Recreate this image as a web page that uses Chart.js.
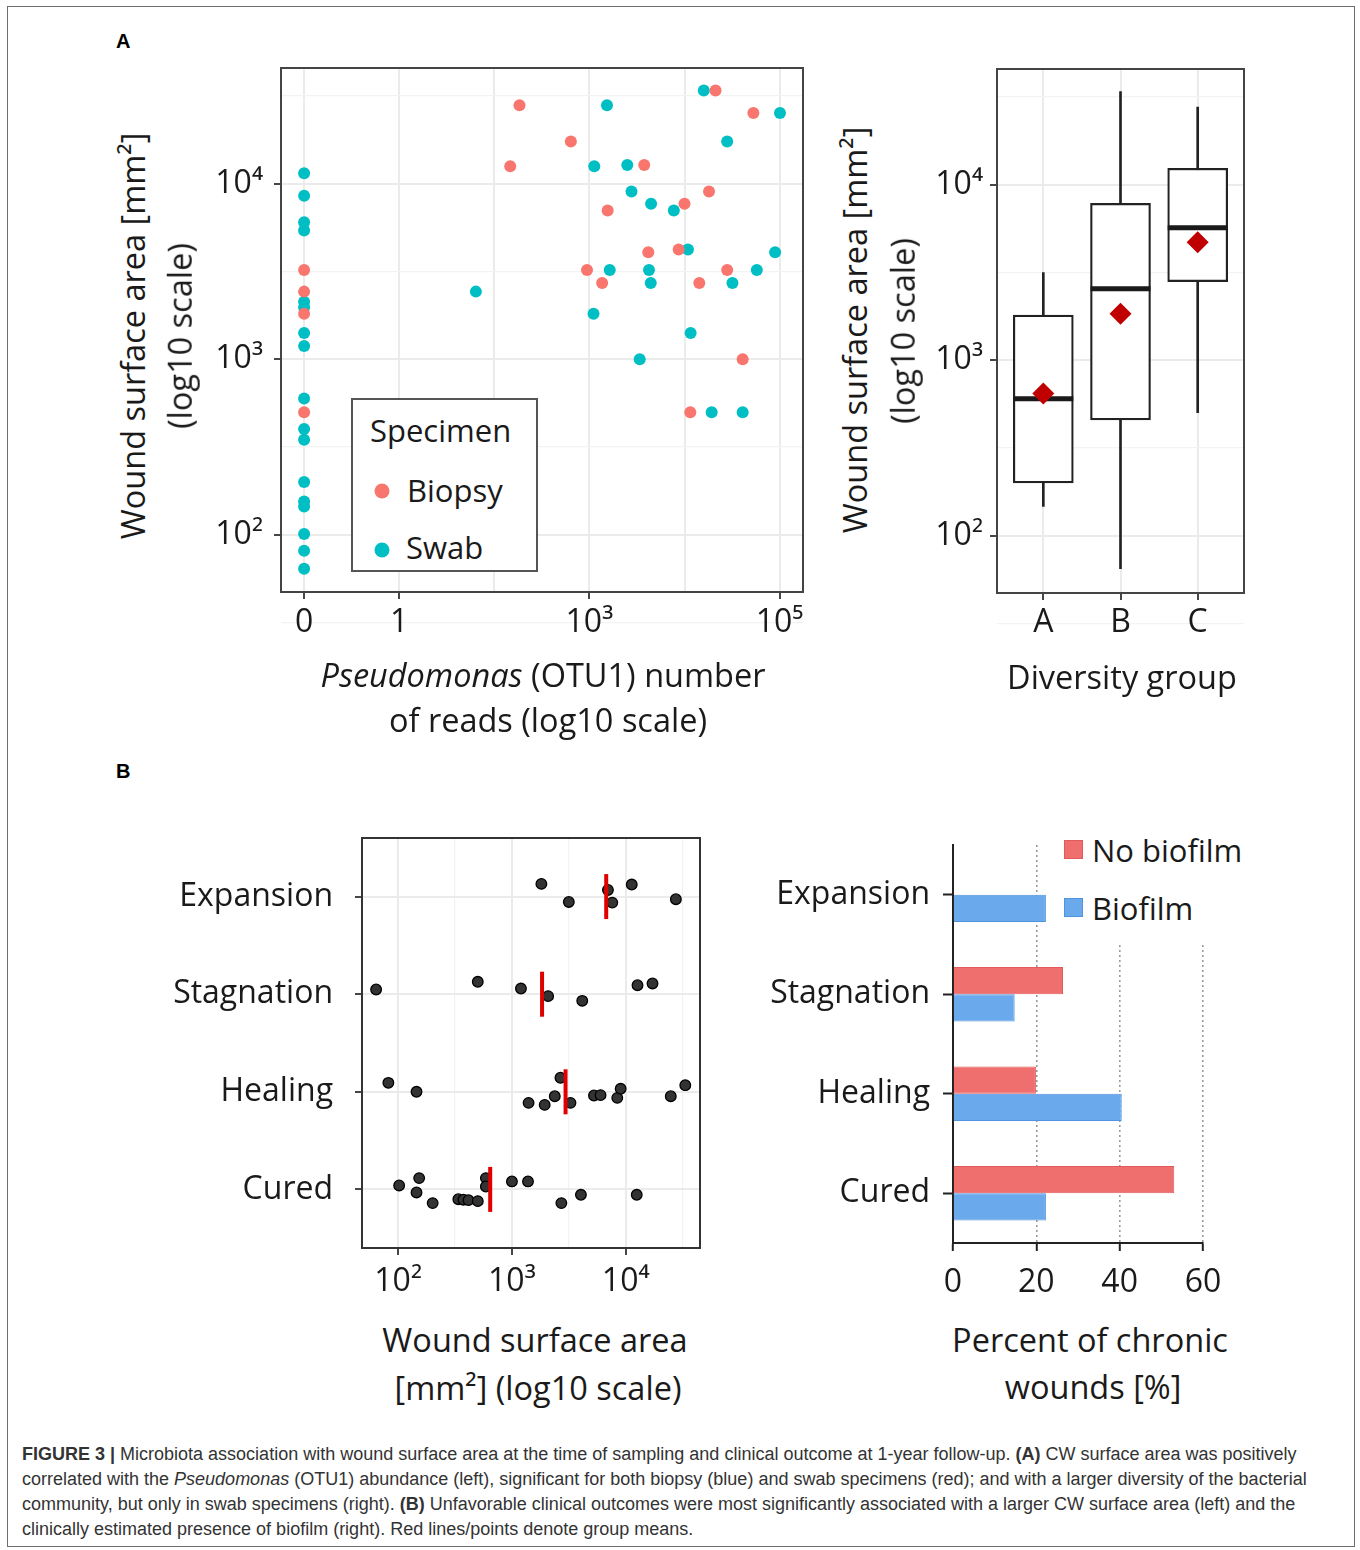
<!DOCTYPE html>
<html><head><meta charset="utf-8">
<script src="https://cdn.jsdelivr.net/npm/chart.js@4"></script>
<style>
body{margin:0;background:#fff;}
#page{position:relative;width:1360px;height:1550px;overflow:hidden;font-family:'Open Sans','Noto Sans',sans-serif;color:#1a1a1a;background:#fff;}
#frame{position:absolute;left:7px;top:6px;width:1348px;height:1541px;border:1.5px solid #6e6e6e;box-sizing:border-box;}
canvas{position:absolute;}
.t{position:absolute;white-space:nowrap;font-size:32.5px;line-height:1;transform:translate(-50%,-50%);}
.rot{transform:translate(-50%,-50%) rotate(-90deg);}
.tl{position:absolute;white-space:nowrap;font-size:31px;line-height:1;transform:translate(0,-50%);}
.lbl{position:absolute;font-family:'Liberation Sans',Arial,sans-serif;font-weight:bold;font-size:20px;line-height:20px;color:#000;}
#caption{position:absolute;left:22px;top:1442px;font-family:'Liberation Sans',Arial,sans-serif;font-size:18px;line-height:25px;color:#333;white-space:nowrap;}
#legA{position:absolute;left:351px;top:398px;width:187px;height:174px;border:2px solid #555;box-sizing:border-box;background:#fff;}
.dot{position:absolute;width:15px;height:15px;border-radius:50%;transform:translate(-50%,-50%);}
#legB{position:absolute;left:1050px;top:828px;width:200px;height:114px;background:#fff;}
.sq{position:absolute;width:19px;height:19px;box-sizing:border-box;}
</style></head>
<body>
<div id="page">
  <div id="frame"></div>
  <div class="lbl" style="left:116px;top:31px;">A</div>
  <div class="lbl" style="left:116px;top:761px;">B</div>

  <canvas id="c1" width="620" height="600" style="left:200px;top:55px;"></canvas>
  <canvas id="c2" width="340" height="600" style="left:920px;top:55px;"></canvas>
  <canvas id="c3" width="570" height="480" style="left:150px;top:825px;"></canvas>
  <canvas id="c4" width="520" height="480" style="left:740px;top:830px;"></canvas>

  <!-- Panel A left titles -->
  <div class="t rot" style="left:133px;top:336px;">Wound surface area [mm²]</div>
  <div class="t rot" style="left:180px;top:336px;">(log10 scale)</div>
  <div class="t" style="left:543px;top:675px;"><i>Pseudomonas</i> (OTU1) number</div>
  <div class="t" style="left:548px;top:720px;">of reads (log10 scale)</div>
  <div id="legA">
    <div class="tl" style="left:17px;top:30px;">Specimen</div>
    <div class="dot" style="left:29px;top:91px;background:#F8766D;"></div>
    <div class="tl" style="left:54px;top:90px;">Biopsy</div>
    <div class="dot" style="left:29px;top:150px;background:#00BFC4;"></div>
    <div class="tl" style="left:53px;top:147px;">Swab</div>
  </div>

  <!-- Panel A right titles -->
  <div class="t rot" style="left:855px;top:330px;">Wound surface area [mm²]</div>
  <div class="t rot" style="left:903px;top:331px;">(log10 scale)</div>
  <div class="t" style="left:1122px;top:677px;">Diversity group</div>

  <!-- Panel B left titles -->
  <div class="t" style="left:535px;top:1340px;">Wound surface area</div>
  <div class="t" style="left:538px;top:1388px;">[mm²] (log10 scale)</div>

  <!-- Panel B right -->
  <div class="t" style="left:1090px;top:1340px;">Percent of chronic</div>
  <div class="t" style="left:1093px;top:1387px;">wounds [%]</div>
  <div id="legB">
    <div class="sq" style="left:14px;top:12px;background:#EF6F6F;border:1px solid #E25A5A;"></div>
    <div class="tl" style="left:42px;top:22px;">No biofilm</div>
    <div class="sq" style="left:14px;top:70px;background:#6AA9EB;border:1px solid #4F94E0;"></div>
    <div class="tl" style="left:42px;top:80px;">Biofilm</div>
  </div>

  <div id="caption">
    <b>FIGURE 3 |</b> Microbiota association with wound surface area at the time of sampling and clinical outcome at 1-year follow-up. <b>(A)</b> CW surface area was positively<br>
    correlated with the <i>Pseudomonas</i> (OTU1) abundance (left), significant for both biopsy (blue) and swab specimens (red); and with a larger diversity of the bacterial<br>
    community, but only in swab specimens (right). <b>(B)</b> Unfavorable clinical outcomes were most significantly associated with a larger CW surface area (left) and the<br>
    clinically estimated presence of biofilm (right). Red lines/points denote group means.
  </div>
</div>

<script>
// ---------- DATA ----------
// Panel A (left): Pseudomonas reads vs wound surface area
const biopsyReads = [0, 0, 0, 0, 183, 21200, 53000, 637, 146, 3770, 18100, 10000, 1555, 4160, 8680, 943, 28100, 1360, 14300, 40900, 11500];
const biopsyArea  = [3230, 2430, 1815, 499, 28000, 34000, 25300, 17400, 12600, 12800, 9040, 7690, 7050, 4070, 4220, 3230, 3230, 2720, 2720, 1000, 499];
const swabReads = [0, 0, 0, 0, 0, 0, 0, 0, 0, 0, 0, 0, 0, 0, 0, 0, 0,
                   1530, 15950, 100900, 28100, 1124, 2500, 2770, 4450, 7720, 10870, 89700, 1635, 4230, 57600, 4415, 31900, 63, 1104, 11600, 3380, 19300, 40900];
const swabArea  = [11500, 8550, 6040, 5420, 2130, 1980, 1413, 1190, 598, 401, 348, 200, 145, 155, 101, 81, 64,
                   28000, 34000, 25300, 17400, 12600, 12800, 9040, 7690, 7050, 4220, 4070, 3230, 3230, 3230, 2720, 2720, 2430, 1815, 1413, 1000, 499, 499];
const readTickPos    = [0, 1, 2, 3, 4, 5];          // log10(reads + 1)
const readTickLabels = ['0', '1', '', '10³', '', '10⁵'];
const areaMajorTicks  = [100, 1000, 10000];
const areaMajorLabels = ['10²', '10³', '10⁴'];
const areaMinorTicks  = [31.6228, 316.228, 3162.28, 31622.8];

// Panel A (right): box plot by diversity group
const diversityGroups = ['A', 'B', 'C'];
const whiskerLow  = [147, 65, 503];
const quartile1   = [200, 458, 2810];
const medianArea  = [603, 2560, 5690];
const quartile3   = [1808, 7830, 12420];
const whiskerHigh = [3162, 33950, 27700];
const meanArea    = [646, 1840, 4710];

// Panel B (left): wound area by outcome (y jitter in category units)
const outcomeLabels = ['Cured', 'Healing', 'Stagnation', 'Expansion'];
const curedArea      = [102, 153, 145, 201, 338, 375, 415, 501, 590, 590, 1000, 1384, 2720, 4040, 12500];
const curedJitter    = [0.041, 0.116, -0.031, -0.14, -0.1, -0.105, -0.11, -0.12, 0.116, 0.03, 0.082, 0.082, -0.14, -0.055, -0.055];
const healingArea    = [82, 145, 1400, 1940, 2380, 2670, 3270, 5260, 6010, 8430, 9030, 24900, 33400];
const healingJitter  = [0.092, 0, -0.113, -0.134, -0.045, 0.144, -0.113, -0.038, -0.034, -0.062, 0.031, -0.045, 0.068];
const stagnationArea   = [64, 501, 1200, 2080, 4150, 12700, 17200];
const stagnationJitter = [0.048, 0.127, 0.058, -0.02, -0.068, 0.092, 0.11];
const expansionArea    = [1815, 3162, 6980, 7620, 11300, 27600];
const expansionJitter  = [0.13, -0.055, 0.068, -0.062, 0.123, -0.027];
const outcomeMeans = [644, 2960, 1840, 6740];   // Cured, Healing, Stagnation, Expansion
const stripMinorTicks = [316.228, 3162.28, 31622.8];

// Panel B (right): percent of chronic wounds
const barOutcomes = ['Expansion', 'Stagnation', 'Healing', 'Cured'];
const noBiofilmPct = [0, 26.4, 19.9, 53.1];
const biofilmPct   = [22.3, 14.8, 40.5, 22.3];
const pctTicks = [0, 20, 40, 60];

// ---------- STYLE / HELPERS ----------
Chart.defaults.font.family = "'Open Sans', 'Noto Sans', sans-serif";
Chart.defaults.font.size = 32;
Chart.defaults.color = '#1a1a1a';
Chart.defaults.animation = false;

const GRID_MAJOR = '#EBEBEB', GRID_MINOR = '#F3F3F3', TICK = '#333';
const isIn = (arr, v) => arr.some(a => Math.abs(a - v) / Math.max(1, Math.abs(a)) < 1e-6);

const framePlugin = {
  id: 'frame',
  afterDraw(chart, args, opts) {
    if (!opts || !opts.on) return;
    const {ctx, chartArea: a} = chart;
    ctx.save();
    ctx.strokeStyle = opts.color || '#444';
    ctx.lineWidth = opts.width || 2;
    ctx.strokeRect(a.left, a.top, a.right - a.left, a.bottom - a.top);
    ctx.restore();
  }
};
Chart.register(framePlugin);

function yFit(w) { return s => { s.width = w; s.paddingTop = 0; s.paddingBottom = 0; }; }
function xFit(h) { return s => { s.height = h; s.paddingLeft = 0; s.paddingRight = 0; }; }

function logAreaAxis(min, max, majors, labels, minors, fit, pad) {
  return {
    type: 'logarithmic', min, max, bounds: 'data',
    afterBuildTicks: s => { s.ticks = majors.concat(minors).sort((a, b) => a - b).map(v => ({value: v})); },
    afterFit: fit,
    ticks: {autoSkip: false, maxRotation: 0, minRotation: 0, padding: pad,
      callback: v => { const i = majors.findIndex(m => Math.abs(m - v) < 1e-6 * m); return i >= 0 ? labels[i] : ''; }},
    grid: {
      color: c => (c.tick && isIn(majors, c.tick.value)) ? GRID_MAJOR : GRID_MINOR,
      lineWidth: c => (c.tick && isIn(majors, c.tick.value)) ? 2 : 1.3,
      tickColor: c => (c.tick && isIn(majors, c.tick.value)) ? TICK : 'rgba(0,0,0,0)',
      tickLength: 7, tickWidth: 1.8, offset: false
    },
    border: {display: false}
  };
}

// ---------- CHART 1: scatter ----------
const xU = r => Math.log10(r + 1);
new Chart(document.getElementById('c1'), {
  type: 'scatter',
  data: {datasets: [
    {label: 'Biopsy', data: biopsyReads.map((r, i) => ({x: xU(r), y: biopsyArea[i]})),
     backgroundColor: '#F8766D', borderWidth: 0, pointRadius: 6, pointHoverRadius: 6},
    {label: 'Swab', data: swabReads.map((r, i) => ({x: xU(r), y: swabArea[i]})),
     backgroundColor: '#00BFC4', borderWidth: 0, pointRadius: 6, pointHoverRadius: 6}
  ]},
  options: {
    responsive: false, animation: false,
    layout: {autoPadding: false, padding: {top: 13, right: 17, left: 0, bottom: 0}},
    plugins: {legend: {display: false}, tooltip: {enabled: false}, frame: {on: true, color: '#444', width: 2}},
    scales: {
      x: {type: 'linear', min: -0.243, max: 5.246, bounds: 'data',
        afterBuildTicks: s => { s.ticks = readTickPos.map(v => ({value: v})); },
        afterFit: xFit(63),
        ticks: {autoSkip: false, maxRotation: 0, minRotation: 0, padding: 5,
          callback: v => { const i = readTickPos.indexOf(Math.round(v)); return i >= 0 ? readTickLabels[i] : ''; }},
        grid: {color: GRID_MAJOR, lineWidth: 2,
          tickColor: c => (c.tick && readTickLabels[readTickPos.indexOf(Math.round(c.tick.value))]) ? TICK : 'rgba(0,0,0,0)',
          tickLength: 7, tickWidth: 1.8},
        border: {display: false}},
      y: logAreaAxis(47.2, 45700, areaMajorTicks, areaMajorLabels, areaMinorTicks, yFit(81), 11)
    }
  }
});

// ---------- CHART 2: box plot ----------
new Chart(document.getElementById('c2'), {
  type: 'bar',
  data: {datasets: [
    {type: 'bar', data: diversityGroups.map((g, i) => ({x: i + 1, y: [whiskerLow[i], whiskerHigh[i]]})),
     backgroundColor: '#222', borderWidth: 0, barThickness: 2, grouped: false, order: 3},
    {type: 'bar', data: diversityGroups.map((g, i) => ({x: i + 1, y: [quartile1[i], quartile3[i]]})),
     backgroundColor: '#fff', borderColor: '#222', borderWidth: 2.2, borderSkipped: false, barThickness: 60, grouped: false, order: 2},
    {type: 'scatter', data: diversityGroups.map((g, i) => ({x: i + 1, y: medianArea[i]})),
     pointStyle: 'line', pointRadius: 30, pointHoverRadius: 30, borderColor: '#1a1a1a', borderWidth: 5, order: 1},
    {type: 'scatter', data: diversityGroups.map((g, i) => ({x: i + 1, y: meanArea[i]})),
     pointStyle: 'rectRot', pointRadius: 11, pointHoverRadius: 11, backgroundColor: '#C00000', borderColor: '#C00000', borderWidth: 0, order: 0}
  ]},
  options: {
    responsive: false, animation: false,
    layout: {autoPadding: false, padding: {top: 14, right: 16, left: 0, bottom: 0}},
    plugins: {legend: {display: false}, tooltip: {enabled: false}, frame: {on: true, color: '#444', width: 2}},
    scales: {
      x: {type: 'linear', min: 0.4, max: 3.6, bounds: 'data', offset: false,
        afterBuildTicks: s => { s.ticks = diversityGroups.map((g, i) => ({value: i + 1})); },
        afterFit: xFit(62),
        ticks: {autoSkip: false, maxRotation: 0, minRotation: 0, padding: 4,
          callback: v => diversityGroups[Math.round(v) - 1] || ''},
        grid: {color: GRID_MAJOR, lineWidth: 2, tickColor: TICK, tickLength: 7, tickWidth: 1.8, offset: false},
        border: {display: false}},
      y: logAreaAxis(47.2, 45700, areaMajorTicks, areaMajorLabels, areaMinorTicks, yFit(77), 7)
    }
  }
});

// ---------- CHART 3: strip plot ----------
const stripSets = [[curedArea, curedJitter], [healingArea, healingJitter], [stagnationArea, stagnationJitter], [expansionArea, expansionJitter]];
const stripPoints = [];
stripSets.forEach(([areas, jit], gi) => areas.forEach((a, k) => stripPoints.push({x: a, y: gi + 1 + jit[k]})));
new Chart(document.getElementById('c3'), {
  type: 'scatter',
  data: {datasets: [
    {data: stripPoints, backgroundColor: '#333', borderColor: '#000', borderWidth: 1.3, pointRadius: 5.3, pointHoverRadius: 5.3, order: 1},
    {data: outcomeMeans.map((m, i) => ({x: m, y: i + 1})), pointStyle: 'line', rotation: 90,
     pointRadius: 22.5, pointHoverRadius: 22.5, borderColor: '#E00000', borderWidth: 4, order: 0}
  ]},
  options: {
    responsive: false, animation: false,
    layout: {autoPadding: false, padding: {top: 13, right: 20, left: 0, bottom: 0}},
    plugins: {legend: {display: false}, tooltip: {enabled: false}, frame: {on: true, color: '#333', width: 2}},
    scales: {
      x: logAreaAxis(48.1, 44980, areaMajorTicks, areaMajorLabels, stripMinorTicks, xFit(57), 8),
      y: {type: 'linear', min: 0.4, max: 4.6, bounds: 'data',
        afterBuildTicks: s => { s.ticks = outcomeLabels.map((o, i) => ({value: i + 1})); },
        afterFit: yFit(212),
        ticks: {autoSkip: false, padding: 22, callback: v => outcomeLabels[Math.round(v) - 1] || ''},
        grid: {color: GRID_MAJOR, lineWidth: 2, tickColor: TICK, tickLength: 7, tickWidth: 1.8},
        border: {display: false}}
    }
  }
});

// ---------- CHART 4: horizontal bars ----------
new Chart(document.getElementById('c4'), {
  type: 'bar',
  data: {labels: barOutcomes, datasets: [
    {label: 'No biofilm', data: noBiofilmPct, backgroundColor: '#EF6F6F', borderColor: '#E25A5A',
     borderWidth: c => (c.raw ? 1 : 0), categoryPercentage: 0.55, barPercentage: 1},
    {label: 'Biofilm', data: biofilmPct, backgroundColor: '#6AA9EB', borderColor: '#4F94E0',
     borderWidth: c => (c.raw ? 1 : 0), categoryPercentage: 0.55, barPercentage: 1}
  ]},
  options: {
    indexAxis: 'y', responsive: false, animation: false,
    layout: {autoPadding: false, padding: {top: 15, right: 57, left: 0, bottom: 0}},
    plugins: {legend: {display: false}, tooltip: {enabled: false}},
    scales: {
      x: {type: 'linear', min: 0, max: 60, bounds: 'data',
        afterBuildTicks: s => { s.ticks = pctTicks.map(v => ({value: v})); },
        afterFit: xFit(67),
        ticks: {autoSkip: false, maxRotation: 0, padding: 13, callback: v => String(v)},
        grid: {color: c => (c.tick && c.tick.value === 0) ? 'rgba(0,0,0,0)' : '#9a9a9a', lineWidth: 1.6,
          tickColor: '#222', tickLength: 8, tickWidth: 2},
        border: {display: true, color: '#222', width: 2, dash: [2, 3]}},
      y: {type: 'category', offset: true,
        afterFit: yFit(213),
        ticks: {autoSkip: false, padding: 13},
        grid: {drawOnChartArea: false, offset: false, tickColor: '#222', tickLength: 10, tickWidth: 2},
        border: {display: true, color: '#222', width: 2}}
    }
  }
});
</script>
</body></html>
